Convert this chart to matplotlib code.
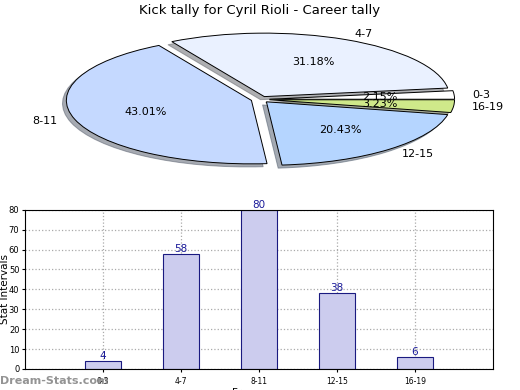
import numpy as np
import matplotlib
matplotlib.use('Agg')
import matplotlib.pyplot as plt

# donnees
categories = ['0-3', '4-7', '8-11', '12-15', '16-19']
kicks = [4, 58, 80, 38, 6]
pie_colors = ['#ffffff', '#eaf1ff', '#c5d9ff', '#b5d5ff', '#cfe98a']
y_ticks = [0, 10, 20, 30, 40, 50, 60, 70, 80]

fig = plt.figure(figsize=(5.2, 3.9), dpi=100)

# camembert (ellipse, non equal)
ax_pie = fig.add_axes([0.109, 0.566, 0.783, 0.358])
wedges, texts, autotexts = ax_pie.pie(
    kicks, labels=categories, colors=pie_colors, explode=[0.05] * 5,
    autopct='%1.2f%%', startangle=0, counterclock=True,
    shadow={'ox': -0.015, 'oy': -0.035, 'shade': 0.6},
    wedgeprops={'edgecolor': 'black', 'linewidth': 0.7},
    textprops={'fontsize': 8})
ax_pie.set_aspect('auto')
ax_pie.set_xlim(-1.1, 1.1)
ax_pie.set_ylim(-1.1, 1.1)
fig.text(0.5, 0.974, 'Kick tally for Cyril Rioli - Career tally',
         ha='center', va='center', fontsize=9.5)

# histogramme
ax = fig.add_axes([0.048, 0.054, 0.9, 0.408])
x = np.arange(len(categories))
bars = ax.bar(x, kicks, width=0.46, color='#ccccee', edgecolor='#1a1a80', linewidth=0.8, zorder=2)
for xi, v in zip(x, kicks):
    ax.text(xi, v, str(v), ha='center', va='bottom', color='#1a1a99', fontsize=7.5)
ax.set_xlim(-1, 5)
ax.set_ylim(0, 80)
ax.set_xticks(x)
ax.set_xticklabels(categories, fontsize=5.5)
ax.set_yticks(y_ticks)
ax.tick_params(axis='y', labelsize=6, pad=2)
ax.tick_params(length=2)
ax.grid(True, linestyle=':', color='#aaaaaa', linewidth=0.9)
ax.set_axisbelow(True)
ax.set_ylabel('Stat Intervals', fontsize=7.5)
ax.yaxis.set_label_coords(-0.033, 0.5)
ax.set_xlabel('Frequency', fontsize=7.5, labelpad=2)

fig.text(0.0, 0.023, 'Dream-Stats.com', color='#888888', fontsize=8, fontweight='bold',
         ha='left', va='center', alpha=0.9)

fig.savefig('out.png', dpi=100)
